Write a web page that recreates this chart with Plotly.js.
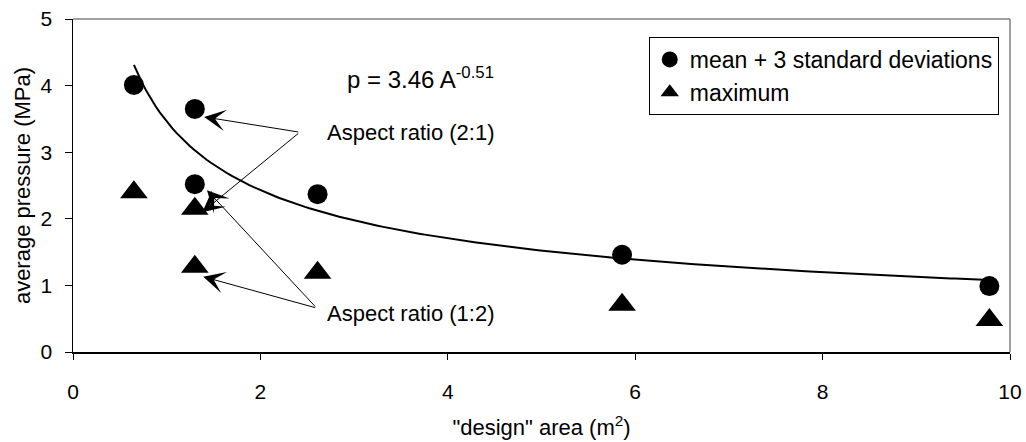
<!DOCTYPE html>
<html>
<head>
<meta charset="utf-8">
<script src="https://cdn.plot.ly/plotly-3.0.1.min.js"></script>
<style>html,body{margin:0;padding:0;background:#fff;}#chart{width:1026px;height:442px;}</style>
</head>
<body>
<div id="chart"></div>
<script>
// design area (m^2)
const areas = [0.65, 1.30, 1.30, 2.61, 5.86, 9.78];
// mean + 3 standard deviations (MPa)
const meanPlus3SD = [4.01, 3.65, 2.52, 2.37, 1.46, 0.99];
// maximum (MPa)
const maximum = [2.40, 2.15, 1.28, 1.19, 0.71, 0.48];
// power-law fit shown on the chart: p = 3.46 A^-0.51
const fitCoef = 3.46;
const fitExp = -0.51;
const seriesNames = ["mean + 3 standard deviations", "maximum"];

const FONT = "Liberation Sans, Arial, sans-serif";

// trend line over the data range, evaluated from the chart's own fitted equation
const aMin = Math.min(...areas), aMax = Math.max(...areas);
const fitX = [], fitY = [];
for (let i = 0; i <= 200; i++) {
  const a = aMin + (aMax - aMin) * i / 200;
  fitX.push(a);
  fitY.push(fitCoef * Math.pow(a, fitExp));
}

const traces = [
  {x: fitX, y: fitY, mode: "lines", line: {color: "#000", width: 2}, showlegend: false, hoverinfo: "skip"},
  {x: areas, y: meanPlus3SD, mode: "markers", name: seriesNames[0],
   marker: {symbol: "circle", size: 20, color: "#000"}},
  {x: areas, y: maximum, mode: "markers", name: seriesNames[1],
   marker: {symbol: "triangle-up", size: 24, color: "#000"}}
];

const arrowStyle = {showarrow: true, arrowhead: 3, arrowsize: 3.6, arrowwidth: 1, arrowcolor: "#000",
  axref: "x", ayref: "y", xref: "x", yref: "y", text: "", standoff: 0, startstandoff: 0};

const layout = {
  width: 1026, height: 442,
  margin: {l: 73, r: 16, t: 19, b: 90},
  paper_bgcolor: "#fff", plot_bgcolor: "#fff",
  font: {family: FONT, size: 20, color: "#000"},
  showlegend: true,
  legend: {x: 0.988, xanchor: "right", y: 0.946, yanchor: "top",
    bgcolor: "#fff", bordercolor: "#000", borderwidth: 1,
    font: {family: FONT, size: 23, color: "#000"}, tracegroupgap: 0},
  xaxis: {range: [0, 10], dtick: 2, tick0: 0, showgrid: false, zeroline: false,
    showline: true, linecolor: "#000", linewidth: 1.5, ticks: "outside", ticklen: 6, tickcolor: "#000",
    ticklabelstandoff: 14, tickfont: {family: FONT, size: 21},
    title: {text: "\"design\" area (m<sup>2</sup>)", font: {family: FONT, size: 22}, standoff: 18}},
  yaxis: {range: [0, 5], dtick: 1, tick0: 0, showgrid: false, zeroline: false,
    showline: true, linecolor: "#000", linewidth: 1.5, ticks: "outside", ticklen: 7, tickcolor: "#000",
    ticklabelstandoff: 8, tickfont: {family: FONT, size: 21},
    title: {text: "average pressure (MPa)", font: {family: FONT, size: 22}, standoff: 4}},
  shapes: [
    {type: "line", xref: "paper", yref: "paper", x0: 0, x1: 1, y0: 1, y1: 1, line: {color: "#808080", width: 1.5}},
    {type: "line", xref: "paper", yref: "paper", x0: 1, x1: 1, y0: 0, y1: 1, line: {color: "#808080", width: 1.5}}
  ],
  annotations: [
    {xref: "x", yref: "y", x: 2.9, y: 4.11, xanchor: "left", yanchor: "middle", showarrow: false,
     text: "p = 3.46 A<sup>-0.51</sup>", font: {family: FONT, size: 24}},
    {xref: "x", yref: "y", x: 2.69, y: 3.3, xanchor: "left", yanchor: "middle", showarrow: false,
     text: "Aspect ratio (2:1)", font: {family: FONT, size: 22}},
    {xref: "x", yref: "y", x: 2.69, y: 0.58, xanchor: "left", yanchor: "middle", showarrow: false,
     text: "Aspect ratio (1:2)", font: {family: FONT, size: 22}},
    Object.assign({}, arrowStyle, {x: 1.40, y: 3.53, ax: 2.42, ay: 3.30}),
    Object.assign({}, arrowStyle, {x: 1.38, y: 2.10, ax: 2.42, ay: 3.30}),
    Object.assign({}, arrowStyle, {x: 1.39, y: 1.13, ax: 2.60, ay: 0.66}),
    Object.assign({}, arrowStyle, {x: 1.43, y: 2.43, ax: 2.60, ay: 0.66})
  ]
};

Plotly.newPlot("chart", traces, layout, {displayModeBar: false, staticPlot: true});
</script>
</body>
</html>
